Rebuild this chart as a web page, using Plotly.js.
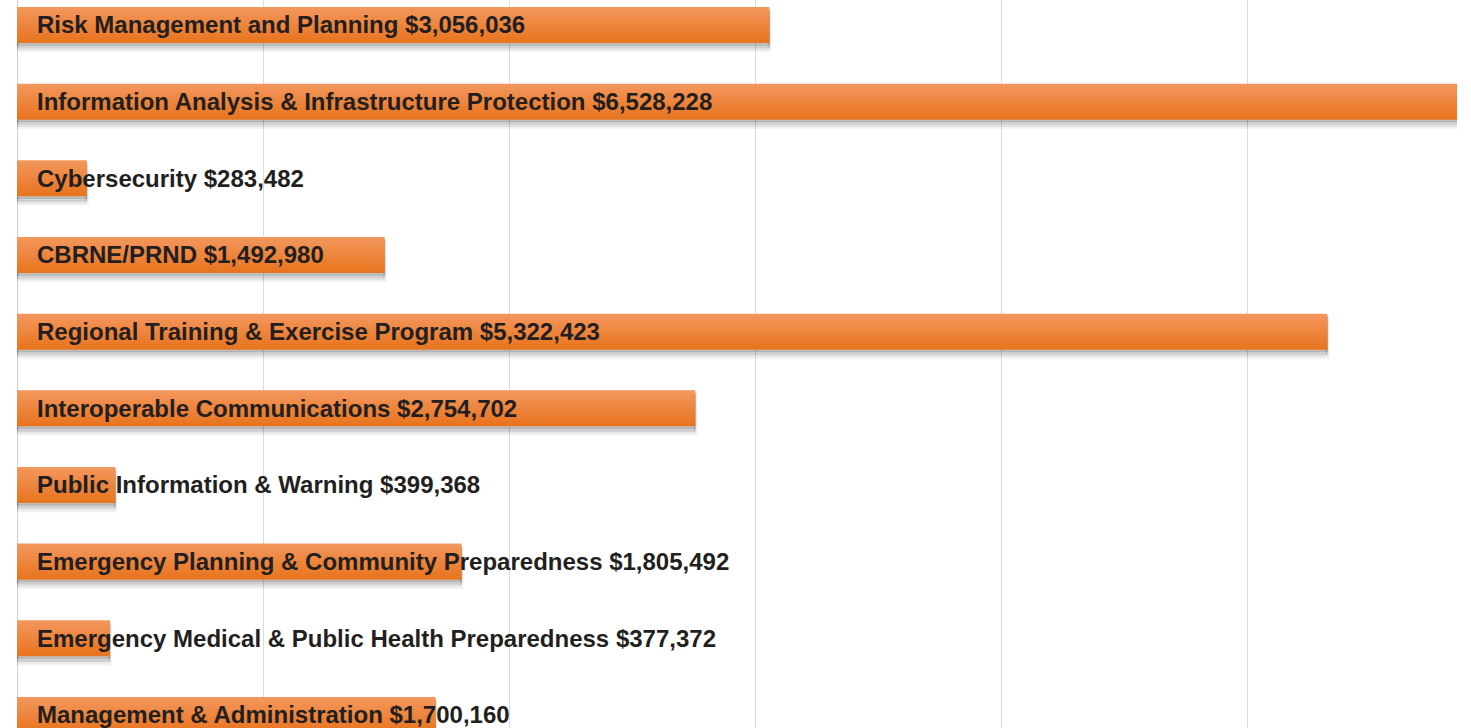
<!DOCTYPE html>
<html>
<head>
<meta charset="utf-8">
<script src="https://cdn.plot.ly/plotly-3.0.1.min.js"></script>
<style>
html,body{margin:0;padding:0;background:#fff;}
#chart{width:1471px;height:728px;}
</style>
</head>
<body>
<div id="chart"></div>
<script>
// ---- data ----
const categories = [
  "Risk Management and Planning",
  "Information Analysis & Infrastructure Protection",
  "Cybersecurity",
  "CBRNE/PRND",
  "Regional Training & Exercise Program",
  "Interoperable Communications",
  "Public Information & Warning",
  "Emergency Planning & Community Preparedness",
  "Emergency Medical & Public Health Preparedness",
  "Management & Administration"
];
const amounts = [3056036, 6528228, 283482, 1492980, 5322423, 2754702, 399368, 1805492, 377372, 1700160];
const tickValues = [0, 1000000, 2000000, 3000000, 4000000, 5000000];

// ---- styling ----
const BAR_W = 0.47;
const topColor = [243, 150, 92];
const botColor = [232, 117, 31];
const N = 12;

function fmt(v){ return "$" + v.toLocaleString("en-US"); }

const traces = [];
// shadows
const shadows = [
  {dy: 0.075, extra: 0.02, col: "rgba(0,0,0,0.05)", lw: 4},
  {dy: 0.05, extra: 0.01, col: "rgba(0,0,0,0.09)", lw: 2},
  {dy: 0.03, extra: 0.0, col: "rgba(0,0,0,0.13)", lw: 1}
];
shadows.forEach(s => {
  traces.push({
    type: "bar", orientation: "h",
    y: categories, x: amounts,
    width: BAR_W + s.extra, offset: -BAR_W/2 + s.dy,
    marker: {color: s.col, line: {color: s.col, width: s.lw}},
    hoverinfo: "skip", showlegend: false
  });
});
// gradient slices (overlapping to avoid seams)
const h = BAR_W / N;
for (let i = 0; i < N; i++) {
  const t = i / (N - 1);
  const c = topColor.map((v, k) => Math.round(v + (botColor[k] - v) * t));
  const w = (i === N - 1) ? h : h * 1.8;
  traces.push({
    type: "bar", orientation: "h",
    y: categories, x: amounts,
    width: w, offset: -BAR_W/2 + i * h,
    marker: {color: `rgb(${c[0]},${c[1]},${c[2]})`, line: {width: 0}},
    hoverinfo: "skip", showlegend: false
  });
}

const annotations = categories.map((c, i) => ({
  x: 0, y: c, xref: "x", yref: "y",
  text: c + " " + fmt(amounts[i]),
  showarrow: false, xanchor: "left", yanchor: "middle", xshift: 18, yshift: 0,
  font: {family: "Liberation Sans, Arial, sans-serif", size: 24, color: "#231f20", weight: "bold"}
}));

const layout = {
  width: 1471, height: 728,
  margin: {l: 17, r: 14, t: 0, b: 0, pad: 0},
  paper_bgcolor: "#ffffff", plot_bgcolor: "#ffffff",
  barmode: "overlay",
  showlegend: false,
  xaxis: {
    range: [0, 5849000],
    tickvals: tickValues,
    showticklabels: false,
    showgrid: true, gridcolor: "#dcdcdc", gridwidth: 1,
    zeroline: true, zerolinecolor: "#d0d0d0", zerolinewidth: 1,
    showline: false, fixedrange: true
  },
  yaxis: {
    type: "category",
    categoryorder: "array", categoryarray: categories,
    range: [9.17, -0.326],
    showticklabels: false, showgrid: false, zeroline: false, showline: false,
    fixedrange: true
  },
  annotations: annotations
};

Plotly.newPlot("chart", traces, layout, {displayModeBar: false, staticPlot: true});
</script>
</body>
</html>
